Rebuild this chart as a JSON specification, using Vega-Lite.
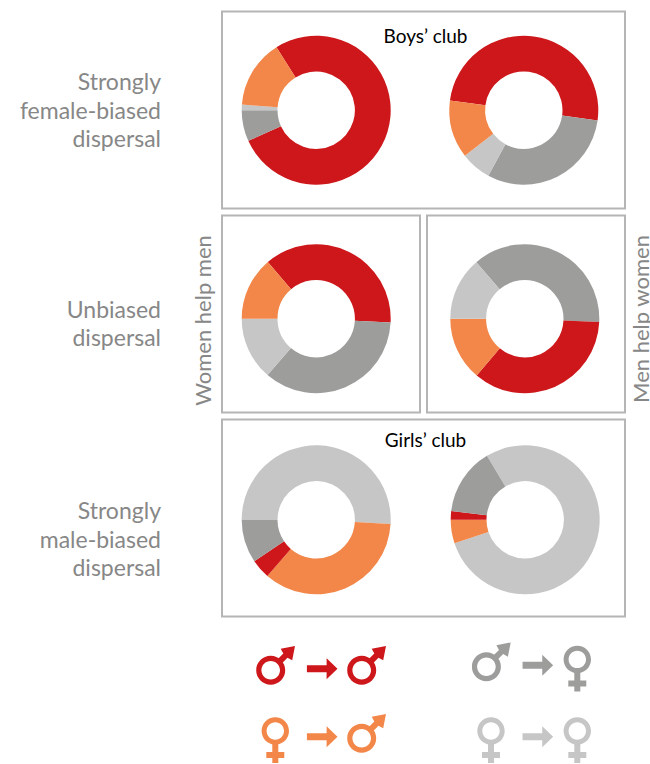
{
"$schema":"https://vega.github.io/schema/vega-lite/v6.json",
"padding":{"left":0,"top":10.5,"right":0,"bottom":0},
"autosize":{"type":"pad"},
"background":"white",
"config":{"view":{"stroke":null},"text":{"font":"Lato"}},
"datasets":{
"donuts":[
{"panel":"top","column":"left","type":"male-male","start":327.8,"end":605.7},
{"panel":"top","column":"left","type":"male-female","start":245.7,"end":270},
{"panel":"top","column":"left","type":"female-female","start":270,"end":274.3},
{"panel":"top","column":"left","type":"female-male","start":274.3,"end":327.8},
{"panel":"top","column":"right","type":"male-male","start":277.4,"end":458},
{"panel":"top","column":"right","type":"male-female","start":98,"end":208.4},
{"panel":"top","column":"right","type":"female-female","start":208.4,"end":232.3},
{"panel":"top","column":"right","type":"female-male","start":232.3,"end":277.4},
{"panel":"midleft","column":"left","type":"male-male","start":319.5,"end":453},
{"panel":"midleft","column":"left","type":"male-female","start":93,"end":220.8},
{"panel":"midleft","column":"left","type":"female-female","start":220.8,"end":270},
{"panel":"midleft","column":"left","type":"female-male","start":270,"end":319.5},
{"panel":"midright","column":"right","type":"male-female","start":319.4,"end":452.5},
{"panel":"midright","column":"right","type":"male-male","start":92.5,"end":220.2},
{"panel":"midright","column":"right","type":"female-male","start":220.2,"end":270},
{"panel":"midright","column":"right","type":"female-female","start":270,"end":319.4},
{"panel":"bottom","column":"left","type":"female-female","start":270,"end":453.3},
{"panel":"bottom","column":"left","type":"female-male","start":93.3,"end":221},
{"panel":"bottom","column":"left","type":"male-male","start":221,"end":236.2},
{"panel":"bottom","column":"left","type":"male-female","start":236.2,"end":270},
{"panel":"bottom","column":"right","type":"female-female","start":329.1,"end":611.7},
{"panel":"bottom","column":"right","type":"female-male","start":251.7,"end":270},
{"panel":"bottom","column":"right","type":"male-male","start":270,"end":276.7},
{"panel":"bottom","column":"right","type":"male-female","start":276.7,"end":329.1}
],
"key":[
{"group":"A","row":"top","slot":"from","symbol":"male from","type":"male-male"},
{"group":"A","row":"top","slot":"arrow","symbol":"arrow","type":"male-male"},
{"group":"A","row":"top","slot":"to","symbol":"male to","type":"male-male"},
{"group":"A","row":"bottom","slot":"from","symbol":"female","type":"female-male"},
{"group":"A","row":"bottom","slot":"arrow","symbol":"arrow","type":"female-male"},
{"group":"A","row":"bottom","slot":"to","symbol":"male to","type":"female-male"},
{"group":"B","row":"top","slot":"from","symbol":"male from","type":"male-female"},
{"group":"B","row":"top","slot":"arrow","symbol":"arrow","type":"male-female"},
{"group":"B","row":"top","slot":"to","symbol":"female","type":"male-female"},
{"group":"B","row":"bottom","slot":"from","symbol":"female","type":"female-female"},
{"group":"B","row":"bottom","slot":"arrow","symbol":"arrow","type":"female-female"},
{"group":"B","row":"bottom","slot":"to","symbol":"female","type":"female-female"}
]
},
"spacing":5,
"bounds":"full",
"vconcat":[
{"spacing":0,"bounds":"flush","hconcat":[
 {"width":222,"height":197,"data":{"values":[{"label":"Strongly\nfemale-biased\ndispersal"}]},
  "mark":{"type":"text","align":"right","baseline":"middle","lineBreak":"\n","lineHeight":28.5,"fontSize":23,"color":"#878787","dx":50,"dy":-27},
  "encoding":{"text":{"field":"label"}}},
 {"width":403,"height":197,"view":{"stroke":"#b5b5b5","strokeWidth":2,"fill":null},
  "layer":[
  {"data":{"name":"donuts"},"transform":[{"filter":"datum.panel==='top'"}],
   "mark":{"type":"arc","radius":74.5,"radius2":38.7},
   "encoding":{
    "x":{"field":"column","type":"nominal","axis":null,"scale":{"type":"point","domain":["left","right"],"range":[94.2,301.8],"padding":0}},
    "y":{"field":"panel","type":"nominal","axis":null,"scale":{"type":"point","range":[98.7,98.7],"padding":0}},
    "theta":{"field":"start","type":"quantitative","scale":{"domain":[0,360],"range":[0,6.283185]}},
    "theta2":{"field":"end"},
    "color":{"field":"type","type":"nominal","legend":null,"scale":{"domain":["male-male","female-male","male-female","female-female"],"range":["#cd171b","#f28749","#9d9d9c","#c6c6c6"]}}
   }},
  {"data":{"values":[{"title":"Boys’ club"}]},
   "mark":{"type":"text","fontSize":19,"color":"#000000","baseline":"middle","dx":2,"dy":-73.5},
   "encoding":{"text":{"field":"title"}}}
  ]}
]},
{"spacing":7,"bounds":"flush","hconcat":[
 {"width":215,"height":197,
  "layer":[
  {"data":{"values":[{"label":"Unbiased\ndispersal"}]},
   "mark":{"type":"text","align":"right","baseline":"middle","lineBreak":"\n","lineHeight":28.5,"fontSize":23,"color":"#878787","dx":53.5,"dy":-3.25},
   "encoding":{"text":{"field":"label"}}},
  {"data":{"values":[{"label":"Women help men"}]},
   "mark":{"type":"text","align":"center","baseline":"middle","angle":270,"fontSize":22,"color":"#878787","dx":-6.5,"dy":96.5},
   "encoding":{"text":{"field":"label"}}}
  ]},
 {"width":198,"height":197,"view":{"stroke":"#b5b5b5","strokeWidth":2,"fill":null},
  "data":{"name":"donuts"},"transform":[{"filter":"datum.panel==='midleft'"}],
  "mark":{"type":"arc","radius":74.5,"radius2":38.7},
  "encoding":{
    "x":{"field":"column","type":"nominal","axis":null,"scale":{"type":"point","range":[94.2,94.2],"padding":0}},
    "y":{"field":"panel","type":"nominal","axis":null,"scale":{"type":"point","range":[103.2,103.2],"padding":0}},
    "theta":{"field":"start","type":"quantitative","scale":{"domain":[0,360],"range":[0,6.283185]}},
    "theta2":{"field":"end"},
    "color":{"field":"type","type":"nominal","legend":null,"scale":{"domain":["male-male","female-male","male-female","female-female"],"range":["#cd171b","#f28749","#9d9d9c","#c6c6c6"]}}
  }},
 {"width":198,"height":197,"view":{"stroke":"#b5b5b5","strokeWidth":2,"fill":null},
  "data":{"name":"donuts"},"transform":[{"filter":"datum.panel==='midright'"}],
  "mark":{"type":"arc","radius":74.5,"radius2":38.7},
  "encoding":{
    "x":{"field":"column","type":"nominal","axis":null,"scale":{"type":"point","range":[97.8,97.8],"padding":0}},
    "y":{"field":"panel","type":"nominal","axis":null,"scale":{"type":"point","range":[103.2,103.2],"padding":0}},
    "theta":{"field":"start","type":"quantitative","scale":{"domain":[0,360],"range":[0,6.283185]}},
    "theta2":{"field":"end"},
    "color":{"field":"type","type":"nominal","legend":null,"scale":{"domain":["male-male","female-male","male-female","female-female"],"range":["#cd171b","#f28749","#9d9d9c","#c6c6c6"]}}
  }},
 {"width":18,"height":197,"data":{"values":[{"label":"Men help women"}]},
  "mark":{"type":"text","align":"center","baseline":"middle","angle":270,"fontSize":22,"color":"#878787","dx":-5,"dy":1,"clip":true},
  "encoding":{"text":{"field":"label"}}}
]},
{"spacing":0,"bounds":"flush","hconcat":[
 {"width":222,"height":197,"data":{"values":[{"label":"Strongly\nmale-biased\ndispersal"}]},
  "mark":{"type":"text","align":"right","baseline":"middle","lineBreak":"\n","lineHeight":28.5,"fontSize":23,"color":"#878787","dx":50,"dy":-6},
  "encoding":{"text":{"field":"label"}}},
 {"width":403,"height":197,"view":{"stroke":"#b5b5b5","strokeWidth":2,"fill":null},
  "layer":[
  {"data":{"name":"donuts"},"transform":[{"filter":"datum.panel==='bottom'"}],
   "mark":{"type":"arc","radius":74.5,"radius2":38.7},
   "encoding":{
    "x":{"field":"column","type":"nominal","axis":null,"scale":{"type":"point","domain":["left","right"],"range":[94.2,303.2],"padding":0}},
    "y":{"field":"panel","type":"nominal","axis":null,"scale":{"type":"point","range":[100.3,100.3],"padding":0}},
    "theta":{"field":"start","type":"quantitative","scale":{"domain":[0,360],"range":[0,6.283185]}},
    "theta2":{"field":"end"},
    "color":{"field":"type","type":"nominal","legend":null,"scale":{"domain":["male-male","female-male","male-female","female-female"],"range":["#cd171b","#f28749","#9d9d9c","#c6c6c6"]}}
   }},
  {"data":{"values":[{"title":"Girls’ club"}]},
   "mark":{"type":"text","fontSize":19,"color":"#000000","baseline":"middle","dx":2,"dy":-77},
   "encoding":{"text":{"field":"title"}}}
  ]}
]},
{"spacing":0,"bounds":"flush","hconcat":[
 {"width":440,"height":141,"data":{"name":"key"},"transform":[{"filter":"datum.group==='A'"}],
  "mark":{"type":"point","filled":true,"size":4,"opacity":1,"strokeWidth":0,"clip":true},
  "encoding":{
   "x":{"field":"slot","type":"nominal","axis":null,"scale":{"type":"point","domain":["from","arrow","to"],"range":[275.3,361.7],"padding":0}},
   "y":{"field":"row","type":"nominal","axis":null,"scale":{"type":"point","domain":["top","bottom"],"range":[46.3,114.3],"padding":0}},
   "shape":{"field":"symbol","type":"nominal","legend":null,"scale":{"domain":["male from","male to","female","arrow"],"range":[
    "M-19.1,1.5 a14.5,14.5 0 1,1 29,0 a14.5,14.5 0 1,1 -29,0 Z M-13.9,1.5 a9.3,9.3 0 1,0 18.6,0 a9.3,9.3 0 1,0 -18.6,0 Z M1.3,-8.6 l6.7,-6.7 l-2.6,-4.7 l14.3,-2.8 l-2.8,14.3 l-4.7,-2.6 l-6.7,6.7 Z",
    "M-14.5,1.5 a14.5,14.5 0 1,1 29,0 a14.5,14.5 0 1,1 -29,0 Z M-9.3,1.5 a9.3,9.3 0 1,0 18.6,0 a9.3,9.3 0 1,0 -18.6,0 Z M5.9,-8.6 l6.7,-6.7 l-2.6,-4.7 l14.3,-2.8 l-2.8,14.3 l-4.7,-2.6 l-6.7,6.7 Z",
    "M-13.7,-5.8 a13.7,13.7 0 1,1 27.4,0 a13.7,13.7 0 1,1 -27.4,0 Z M-8.7,-5.8 a8.7,8.7 0 1,0 17.4,0 a8.7,8.7 0 1,0 -17.4,0 Z M-3,7.2 L3,7.2 L3,15.2 L9,15.2 L9,21.2 L3,21.2 L3,26.2 L-3,26.2 L-3,21.2 L-9,21.2 L-9,15.2 L-3,15.2 Z",
    "M-11.6,-3.5 L8.1,-3.5 L8.1,-10.5 L19,0 L8.1,10.5 L8.1,3.5 L-11.6,3.5 Z"]}},
   "color":{"field":"type","type":"nominal","legend":null,"scale":{"domain":["male-male","female-male","male-female","female-female"],"range":["#cd171b","#f28749","#9d9d9c","#c6c6c6"]}}
  }},
 {"width":210,"height":141,"data":{"name":"key"},"transform":[{"filter":"datum.group==='B'"}],
  "mark":{"type":"point","filled":true,"size":4,"opacity":1,"strokeWidth":0,"clip":true},
  "encoding":{
   "x":{"field":"slot","type":"nominal","axis":null,"scale":{"type":"point","domain":["from","arrow","to"],"range":[51,137.3],"padding":0}},
   "y":{"field":"row","type":"nominal","axis":null,"scale":{"type":"point","domain":["top","bottom"],"range":[42.7,114.3],"padding":0}},
   "shape":{"field":"symbol","type":"nominal","legend":null,"scale":{"domain":["male from","male to","female","arrow"],"range":[
    "M-19.1,1.5 a14.5,14.5 0 1,1 29,0 a14.5,14.5 0 1,1 -29,0 Z M-13.9,1.5 a9.3,9.3 0 1,0 18.6,0 a9.3,9.3 0 1,0 -18.6,0 Z M1.3,-8.6 l6.7,-6.7 l-2.6,-4.7 l14.3,-2.8 l-2.8,14.3 l-4.7,-2.6 l-6.7,6.7 Z",
    "M-14.5,1.5 a14.5,14.5 0 1,1 29,0 a14.5,14.5 0 1,1 -29,0 Z M-9.3,1.5 a9.3,9.3 0 1,0 18.6,0 a9.3,9.3 0 1,0 -18.6,0 Z M5.9,-8.6 l6.7,-6.7 l-2.6,-4.7 l14.3,-2.8 l-2.8,14.3 l-4.7,-2.6 l-6.7,6.7 Z",
    "M-13.7,-5.8 a13.7,13.7 0 1,1 27.4,0 a13.7,13.7 0 1,1 -27.4,0 Z M-8.7,-5.8 a8.7,8.7 0 1,0 17.4,0 a8.7,8.7 0 1,0 -17.4,0 Z M-3,7.2 L3,7.2 L3,15.2 L9,15.2 L9,21.2 L3,21.2 L3,26.2 L-3,26.2 L-3,21.2 L-9,21.2 L-9,15.2 L-3,15.2 Z",
    "M-11.6,-3.5 L8.1,-3.5 L8.1,-10.5 L19,0 L8.1,10.5 L8.1,3.5 L-11.6,3.5 Z"]}},
   "color":{"field":"type","type":"nominal","legend":null,"scale":{"domain":["male-male","female-male","male-female","female-female"],"range":["#cd171b","#f28749","#9d9d9c","#c6c6c6"]}}
  }}
]}
]
}
